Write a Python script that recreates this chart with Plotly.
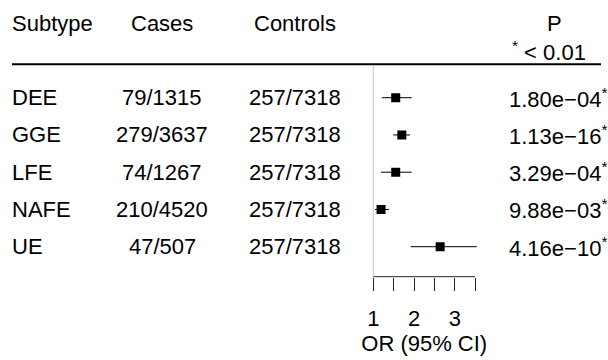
import plotly.graph_objects as go

# Forest plot table: subtype, case / control counts, odds ratio with 95% CI, P value
subtypes = ["DEE", "GGE", "LFE", "NAFE", "UE"]
cases = ["79/1315", "279/3637", "74/1267", "210/4520", "47/507"]
controls = ["257/7318", "257/7318", "257/7318", "257/7318", "257/7318"]
odds_ratio = [1.55, 1.70, 1.55, 1.19, 2.64]
ci_low = [1.21, 1.49, 1.19, 1.04, 1.92]
ci_high = [1.94, 1.90, 1.94, 1.39, 3.54]
p_values = ["1.80e\u221204", "1.13e\u221216", "3.29e\u221204", "9.88e\u221203", "4.16e\u221210"]
significant = [True, True, True, True, True]

headers = ["Subtype", "Cases", "Controls", "P"]
p_note = "<sup>*</sup> < 0.01"
x_title = "OR (95% CI)"
major_ticks = [1, 2, 3]
minor_ticks = [1.5, 2.5, 3.5]

W, H = 608, 360
FONT = "Liberation Sans, Arial, Helvetica, sans-serif"
FS = 22

# pixel layout of the OR panel
px_one, px_per_unit = 373.3, 40.75
x_lo, x_hi = 0.5, 4.0
dom = [(px_one + (x_lo - 1) * px_per_unit) / W, (px_one + (x_hi - 1) * px_per_unit) / W]
row0, row_step = 97.7, 37.25
y_top = -row0 / row_step
y_bot = (H - row0) / row_step
axis_px = 276.7
header_line_px = 64.3

rows = list(range(len(subtypes)))

fig = go.Figure()
fig.add_trace(go.Scatter(
    x=odds_ratio, y=rows, mode="markers",
    marker=dict(symbol="square", size=9, color="black"),
    error_x=dict(type="data", symmetric=False,
                 array=[h - o for h, o in zip(ci_high, odds_ratio)],
                 arrayminus=[o - l for o, l in zip(odds_ratio, ci_low)],
                 width=0, thickness=1, color="black"),
    showlegend=False, hoverinfo="skip",
))

def pxy(py):
    return 1 - py / H

ann = []
col_x = {"Subtype": (10, "left"), "Cases": (162, "center"),
         "Controls": (295, "center"), "P": (554, "center")}
for h in headers:
    x, anchor = col_x[h]
    ann.append(dict(text=h, x=x / W, y=pxy(24), xref="paper", yref="paper",
                    xanchor=anchor, yanchor="middle", showarrow=False))
ann.append(dict(text=p_note, x=549 / W, y=pxy(51), xref="paper", yref="paper",
                xanchor="center", yanchor="middle", showarrow=False))

for i in rows:
    ann.append(dict(text=subtypes[i], x=10 / W, y=i, xref="paper", yref="y",
                    xanchor="left", yanchor="middle", showarrow=False))
    ann.append(dict(text=cases[i], x=162 / W, y=i, xref="paper", yref="y",
                    xanchor="center", yanchor="middle", showarrow=False))
    ann.append(dict(text=controls[i], x=295 / W, y=i, xref="paper", yref="y",
                    xanchor="center", yanchor="middle", showarrow=False))
    star = "<sup>*</sup>" if significant[i] else ""
    ann.append(dict(text=p_values[i] + star, x=609 / W, y=i, xref="paper", yref="y",
                    xanchor="right", yanchor="middle", showarrow=False))

shapes = [
    # header rule
    dict(type="line", xref="paper", yref="paper", x0=12 / W, x1=601 / W,
         y0=pxy(header_line_px), y1=pxy(header_line_px),
         line=dict(color="black", width=2)),
    # reference line at OR = 1
    dict(type="line", xref="x", yref="paper", x0=1, x1=1,
         y0=pxy(65), y1=pxy(axis_px), line=dict(color="#c8c8c8", width=1)),
    # OR axis baseline
    dict(type="line", xref="x", yref="paper", x0=major_ticks[0], x1=minor_ticks[-1],
         y0=pxy(axis_px), y1=pxy(axis_px), line=dict(color="#222", width=1)),
]

fig.update_layout(
    width=W, height=H, margin=dict(l=0, r=0, t=0, b=0),
    paper_bgcolor="white", plot_bgcolor="white",
    font=dict(family=FONT, size=FS, color="black"),
    annotations=ann, shapes=shapes,
    xaxis=dict(domain=dom, range=[x_lo, x_hi], anchor="free", position=pxy(axis_px),
               showgrid=False, zeroline=False, showline=False,
               ticks="outside", ticklen=13, tickwidth=1, tickcolor="#222",
               tickvals=major_ticks, ticklabelstandoff=9,
               minor=dict(tickvals=minor_ticks, ticks="outside", ticklen=13,
                          tickwidth=1, tickcolor="#222", showgrid=False),
               tickfont=dict(family=FONT, size=FS, color="black"),
               title=dict(text=x_title, standoff=4,
                          font=dict(family=FONT, size=FS, color="black"))),
    yaxis=dict(domain=[0, 1], range=[y_bot, y_top], visible=False,
               showgrid=False, zeroline=False),
)

fig.write_html("out.html")
